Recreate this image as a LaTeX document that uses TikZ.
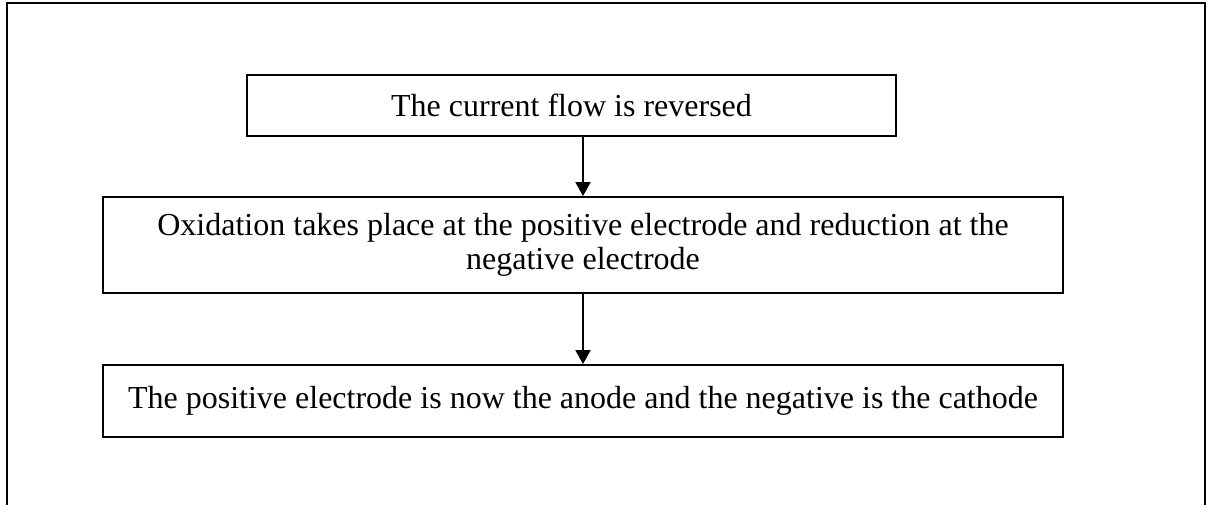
\documentclass[tikz,border=0pt]{standalone}
\usepackage{fontspec}
\setmainfont{Liberation Serif}
\usetikzlibrary{arrows.meta}
\begin{document}
\begin{tikzpicture}[x=1pt,y=1pt,
  stepbox/.style={draw, line width=1.8pt, inner sep=0pt, align=center,
    font=\fontsize{32}{34}\selectfont},
  arr/.style={line width=1.8pt, -{Triangle[width=15pt,length=14pt]}}]
  \useasboundingbox (0,0) rectangle (1212,-505);
  % open frame around the chart
  \draw[line width=2pt] (7,-506) -- (7,-3) -- (1205,-3) -- (1205,-506);
  \node[stepbox, minimum width=649pt, minimum height=61pt] (b1) at (571.5,-105.5)
    {The current flow is reversed};
  \node[stepbox, minimum width=960pt, minimum height=96pt] (b2) at (583,-245)
    {Oxidation takes place at the positive electrode and reduction at the\\negative electrode};
  \node[stepbox, minimum width=960pt, minimum height=72pt] (b3) at (583,-401)
    {The positive electrode is now the anode and the negative is the cathode};
  \draw[arr] (b1.south -| b2.north) -- (b2.north);
  \draw[arr] (b2.south) -- (b3.north);
\end{tikzpicture}
\end{document}
